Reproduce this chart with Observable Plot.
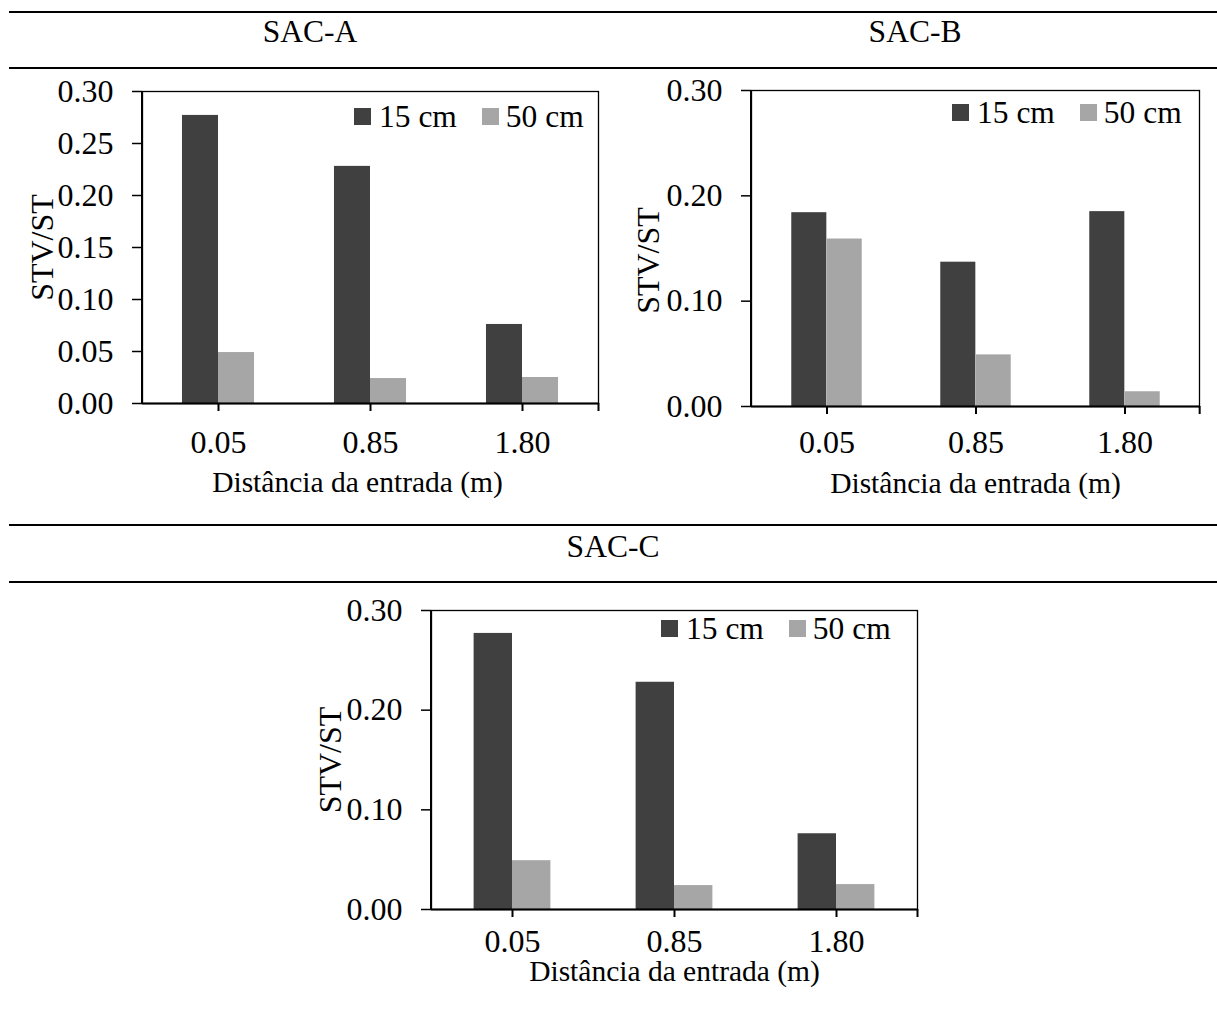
<!DOCTYPE html>
<html><head><meta charset="utf-8">
<script src="https://cdn.jsdelivr.net/npm/d3@7"></script>
<script src="https://cdn.jsdelivr.net/npm/@observablehq/plot@0.6"></script>
<style>
body{margin:0;background:#fff;font-family:"Liberation Serif","Times New Roman",serif;color:#000;}
#root{position:relative;width:1217px;height:1011px;overflow:hidden;background:#fff;}
.hline{position:absolute;background:#000;}
.title{position:absolute;font-size:31.5px;line-height:31.5px;transform:translateX(-50%);white-space:nowrap;}
.panel{position:absolute;}
.legend{position:absolute;display:flex;align-items:center;font-size:31.5px;line-height:31.5px;white-space:nowrap;}
.sw{width:17px;height:17px;display:inline-block;}
</style></head><body><div id="root"></div>
<script>
// ---- data ----
const distances = ["0.05", "0.85", "1.80"];
const seriesNames = ["15 cm", "50 cm"];
const seriesColors = ["#404040", "#a6a6a6"];
const sacA_15 = [0.277, 0.228, 0.076];
const sacA_50 = [0.049, 0.024, 0.025];
const sacB_15 = [0.184, 0.137, 0.185];
const sacB_50 = [0.159, 0.049, 0.014];
const sacC_15 = [0.277, 0.228, 0.076];
const sacC_50 = [0.049, 0.024, 0.025];
const ticksA = [0, 0.05, 0.10, 0.15, 0.20, 0.25, 0.30];
const ticksB = [0, 0.10, 0.20, 0.30];
const ticksC = [0, 0.10, 0.20, 0.30];
const panelTitles = ["SAC-A", "SAC-B", "SAC-C"];
const yLabel = "STV/ST";
const xLabel = "Distância da entrada (m)";

const root = document.getElementById("root");

function hline(y, x1, x2, h) {
  const d = document.createElement("div");
  d.className = "hline";
  Object.assign(d.style, {left: x1 + "px", top: (y - h / 2) + "px", width: (x2 - x1) + "px", height: h + "px"});
  root.appendChild(d);
}
function title(text, cx, top) {
  const d = document.createElement("div");
  d.className = "title";
  d.textContent = text;
  Object.assign(d.style, {left: cx + "px", top: top + "px"});
  root.appendChild(d);
}
function legend(left, top) {
  const d = document.createElement("div");
  d.className = "legend";
  Object.assign(d.style, {left: left + "px", top: top + "px"});
  seriesNames.forEach((name, i) => {
    const sw = document.createElement("span");
    sw.className = "sw";
    sw.style.background = seriesColors[i];
    sw.style.marginRight = (i === 0 ? 8 : 7) + "px";
    if (i > 0) sw.style.marginLeft = "25px";
    const t = document.createElement("span");
    t.textContent = name;
    d.appendChild(sw);
    d.appendChild(t);
  });
  root.appendChild(d);
}

function panel(o) {
  const bw = (o.width - o.ml - o.mr) / distances.length;
  const barW = 0.237 * bw;
  const rows15 = distances.map((d, i) => ({d, v: o.v15[i]}));
  const rows50 = distances.map((d, i) => ({d, v: o.v50[i]}));
  const svg = Plot.plot({
    width: o.width, height: o.height,
    marginLeft: o.ml, marginRight: o.mr, marginTop: o.mt, marginBottom: o.mb,
    style: {fontFamily: "Liberation Serif, Times New Roman, serif", fontSize: "32px", color: "#000", background: "transparent", overflow: "visible"},
    x: {domain: distances, padding: 0, axis: null},
    y: {domain: [0, 0.30], axis: null},
    marks: [
      Plot.barY(rows15, {x: "d", y: "v", fill: seriesColors[0], insetLeft: bw / 2 - barW, insetRight: bw / 2}),
      Plot.barY(rows50, {x: "d", y: "v", fill: seriesColors[1], insetLeft: bw / 2, insetRight: bw / 2 - barW}),
      Plot.frame({stroke: "#000", strokeWidth: 1.3}),
      Plot.ruleY([0], {stroke: "#000", strokeWidth: 2.2}),
      Plot.axisY(o.ticks, {tickSize: 10, tickPadding: 19, tickFormat: d3.format(".2f"), strokeWidth: 1.5, label: null, fontSize: 32}),
      Plot.axisX({tickSize: 8, tickPadding: o.xPad, strokeWidth: 2, label: null, fontSize: 32}),
      Plot.axisX([distances[distances.length - 1]], {tickSize: 8, dx: bw / 2, tickFormat: () => "", strokeWidth: 2, label: null}),
      Plot.text([xLabel], {text: d => d, frameAnchor: "bottom", lineAnchor: "middle", textAnchor: "middle", dx: o.xTitleDx || 0, dy: o.xTitleDy, fontSize: 29.5}),
      Plot.text([yLabel], {text: d => d, frameAnchor: "left", textAnchor: "middle", lineAnchor: "middle", dx: o.yDx, dy: o.yDy || 0, rotate: -90, fontSize: 32})
    ]
  });
  const div = document.createElement("div");
  div.className = "panel";
  Object.assign(div.style, {left: o.left + "px", top: o.top + "px"});
  div.appendChild(svg);
  root.appendChild(div);
  // thicker left axis line
  const ax = document.createElement("div");
  ax.className = "hline";
  Object.assign(ax.style, {left: (o.left + o.ml - 1) + "px", top: (o.top + o.mt) + "px", width: "2.2px", height: (o.height - o.mt - o.mb) + "px"});
  root.appendChild(ax);
}

// header lines & titles
hline(12, 9, 1217, 2);
hline(68, 9, 1217, 1.5);
hline(525, 9, 1217, 2);
hline(582, 9, 1217, 1.5);
title(panelTitles[0], 310, 16);
title(panelTitles[1], 915, 16);
title(panelTitles[2], 613, 531);

panel({v15: sacA_15, v50: sacA_50, ticks: ticksA, left: 0, top: 70, width: 612, height: 430, ml: 142, mr: 14, mt: 21, mb: 97, xPad: 19, xTitleDx: -13, xTitleDy: 79, yDx: -100});
panel({v15: sacB_15, v50: sacB_50, ticks: ticksB, left: 608, top: 70, width: 609, height: 430, ml: 143, mr: 18, mt: 20, mb: 94, xPad: 16, xTitleDy: 77, yDx: -103, yDy: 12});
panel({v15: sacC_15, v50: sacC_50, ticks: ticksC, left: 290, top: 590, width: 640, height: 410, ml: 141, mr: 13, mt: 20, mb: 91, xPad: 12, xTitleDy: 62, yDx: -101});

legend(354, 101);
legend(952, 97);
legend(661, 613);
</script>
</body></html>
